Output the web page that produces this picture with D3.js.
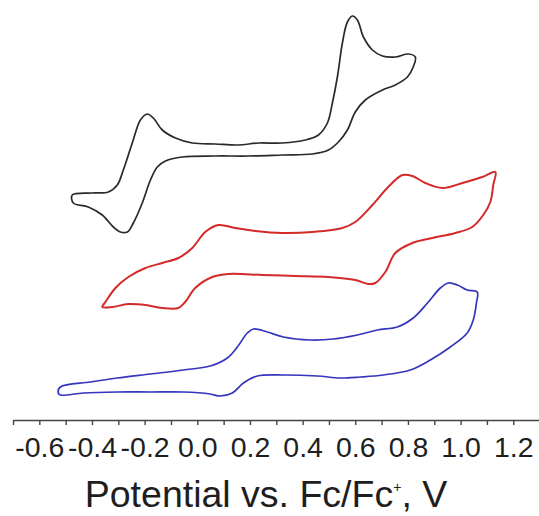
<!DOCTYPE html>
<html>
<head>
<meta charset="utf-8">
<script src="https://cdn.jsdelivr.net/npm/d3@7"></script>
<style>
  body { margin: 0; background: #fff; }
  text { font-family: "Liberation Sans", Arial, sans-serif; }
</style>
</head>
<body>
<script>
// potential (V vs Fc/Fc+) and current (a.u., curves are offset vertically)
const blackCV = [
  [-0.475, 22.5], [-0.40, 22.7], [-0.338, 22.8], [-0.304, 23.5], [-0.281, 25.0],
  [-0.247, 27.7], [-0.216, 30.0], [-0.19, 30.6], [-0.167, 30.2], [-0.133, 29.0],
  [-0.083, 28.2], [-0.019, 27.7], [0.068, 27.6], [0.156, 27.5], [0.232, 27.7],
  [0.323, 27.7], [0.41, 28.0], [0.46, 28.5], [0.494, 29.7], [0.513, 31.7],
  [0.532, 34.3], [0.551, 37.7], [0.57, 39.8], [0.589, 40.4], [0.608, 40.0],
  [0.631, 38.3], [0.665, 37.0], [0.703, 36.4], [0.752, 36.3], [0.801, 36.6],
  [0.828, 36.3], [0.82, 35.3], [0.798, 34.3], [0.752, 33.5], [0.703, 33.0],
  [0.638, 32.0], [0.60, 30.8], [0.57, 29.0], [0.536, 27.8], [0.498, 27.0],
  [0.437, 26.6], [0.323, 26.5], [0.194, 26.4], [0.068, 26.4], [-0.057, 26.3],
  [-0.121, 25.9], [-0.152, 25.3], [-0.178, 24.0], [-0.209, 21.7], [-0.243, 19.7],
  [-0.266, 18.8], [-0.292, 18.8], [-0.319, 19.3], [-0.361, 20.5], [-0.414, 21.3],
  [-0.471, 21.7]
];

const redCV = [
  [-0.361, 11.3], [-0.349, 11.8], [-0.311, 13.2], [-0.262, 14.3], [-0.197, 15.2],
  [-0.133, 15.7], [-0.072, 16.2], [-0.019, 17.2], [0.03, 18.8], [0.08, 19.5],
  [0.144, 19.2], [0.22, 18.9], [0.323, 18.7], [0.437, 18.8], [0.551, 19.2],
  [0.60, 19.8], [0.665, 21.5], [0.725, 23.3], [0.779, 24.5], [0.817, 24.4],
  [0.866, 23.7], [0.931, 23.2], [1.007, 23.7], [1.082, 24.3], [1.132, 24.8],
  [1.124, 23.5], [1.113, 21.8], [1.086, 20.5], [1.044, 19.3], [0.98, 18.7],
  [0.893, 18.2], [0.817, 17.7], [0.752, 16.7], [0.714, 14.8], [0.676, 13.7],
  [0.649, 13.6], [0.60, 14.0], [0.498, 14.3], [0.372, 14.4], [0.247, 14.5],
  [0.118, 14.6], [0.057, 14.3], [-0.008, 13.2], [-0.046, 11.8], [-0.072, 11.2],
  [-0.133, 11.2], [-0.197, 11.5], [-0.262, 11.6], [-0.323, 11.3]
];

const blueCV = [
  [-0.528, 2.7], [-0.52, 3.3], [-0.406, 3.8], [-0.304, 4.2], [-0.178, 4.6],
  [-0.053, 5.0], [0.049, 5.4], [0.114, 6.2], [0.152, 7.3], [0.19, 8.7],
  [0.213, 9.1], [0.266, 8.8], [0.327, 8.3], [0.429, 8.0], [0.517, 8.1],
  [0.608, 8.5], [0.684, 9.0], [0.76, 9.3], [0.82, 10.2], [0.874, 11.7],
  [0.923, 13.2], [0.953, 13.7], [0.988, 13.5], [1.025, 13.0], [1.063, 12.8],
  [1.06, 11.7], [1.048, 10.0], [1.025, 8.7], [0.961, 7.3], [0.885, 6.0],
  [0.809, 5.0], [0.706, 4.5], [0.619, 4.3], [0.543, 4.2], [0.456, 4.4],
  [0.327, 4.5], [0.228, 4.4], [0.175, 3.7], [0.133, 2.7], [0.087, 2.4],
  [0.049, 2.6], [-0.053, 2.8], [-0.178, 2.8], [-0.304, 2.8], [-0.433, 2.7],
  [-0.52, 2.5]
];

const xTicks = d3.range(-7, 14).map(d => d / 10);   // -0.7 .. 1.3 every 0.1
const xDomain = [-0.7, 1.3];
const yDomain = [0, 42];
const xTitle = "Potential vs. Fc/Fc";

const width  = 539;
const height = 516;
const axisY  = 420;

const svg = d3.select("body").append("svg")
  .attr("width", width)
  .attr("height", height);

const xScale = d3.scaleLinear().domain(xDomain).range([13, 539.6]);
const yScale = d3.scaleLinear().domain(yDomain).range([axisY, 0]);

const lineGen = d3.line()
  .x(d => xScale(d[0]))
  .y(d => yScale(d[1]))
  .curve(d3.curveCatmullRomClosed.alpha(0.5));

const curves = [
  {data: blackCV, color: "#2a2a2a", w: 1.7},
  {data: redCV,   color: "#d42a2a", w: 2.0},
  {data: blueCV,  color: "#3535bd", w: 1.7}
];

svg.selectAll("path.cv")
  .data(curves)
  .join("path")
  .attr("class", "cv")
  .attr("fill", "none")
  .attr("stroke", d => d.color)
  .attr("stroke-width", d => d.w)
  .attr("stroke-linejoin", "round")
  .attr("d", d => lineGen(d.data));

const xAxis = d3.axisBottom(xScale)
  .tickValues(xTicks)
  .tickSize(5)
  .tickSizeOuter(0)
  .tickPadding(12)
  .tickFormat(d => {
    const k = Math.round(d * 10);
    if (k % 2 !== 0) return "";
    return d3.format(".1f")(d).replace("\u2212", "-");
  });

const gx = svg.append("g")
  .attr("transform", `translate(0,${axisY})`)
  .call(xAxis);

gx.select(".domain").attr("stroke", "#444").attr("stroke-width", 1.4);
gx.selectAll(".tick line").attr("stroke", "#444").attr("stroke-width", 1.4);
gx.selectAll(".tick text")
  .attr("fill", "#1e1e1e")
  .style("font-size", "28.5px");

const title = svg.append("text")
  .attr("x", 266)
  .attr("y", 507)
  .attr("text-anchor", "middle")
  .attr("fill", "#1e1e1e")
  .style("font-size", "37.5px");
title.append("tspan").text(xTitle);
title.append("tspan").attr("dy", -15).style("font-size", "14px").text("+");
title.append("tspan").attr("dy", 15).text(", V");
</script>
</body>
</html>
